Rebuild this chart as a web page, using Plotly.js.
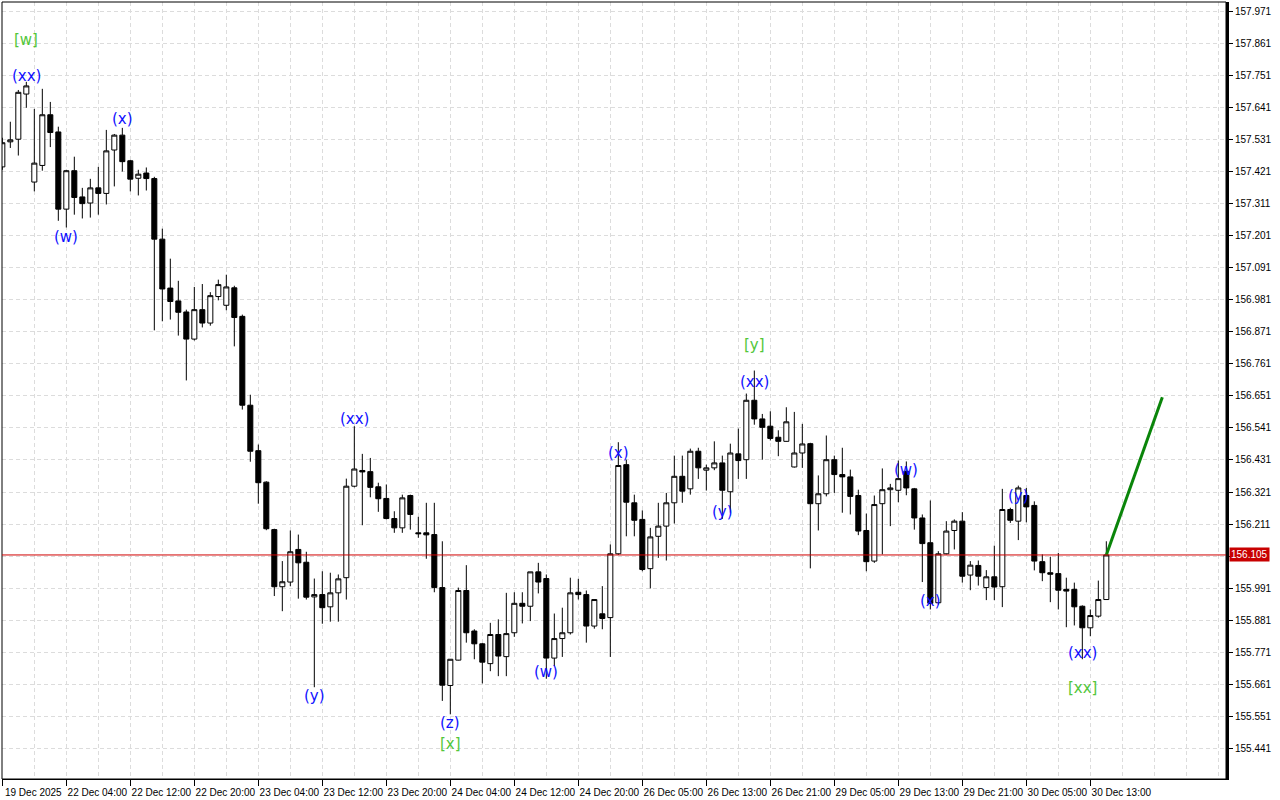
<!DOCTYPE html>
<html>
<head>
<meta charset="utf-8">
<script src="https://cdn.plot.ly/plotly-3.0.1.min.js"></script>
<style>html,body{margin:0;padding:0;background:#fff;}#chart{width:1280px;height:800px;}</style>
</head>
<body>
<div id="chart"></div>
<script>
// ---- data (H1 candles) ----
const openP = [157.437,157.523,157.532,157.687,157.385,157.442,157.616,157.557,157.292,157.424,
157.334,157.313,157.365,157.346,157.495,157.546,157.458,157.398,157.416,157.397,
157.189,157.021,156.977,156.939,156.846,156.947,156.901,156.992,156.962,157.022,
156.924,156.619,156.463,156.355,156.192,155.996,156.012,156.124,156.080,155.961,
155.969,155.927,155.975,156.027,156.341,156.395,156.391,156.339,156.299,156.230,
156.198,156.309,156.181,156.181,156.175,155.993,155.657,155.744,155.983,155.844,
155.800,155.732,155.832,155.756,155.838,155.939,155.929,156.047,156.024,155.751,
155.818,155.838,155.977,155.969,155.861,155.903,155.890,156.109,156.415,156.284,
156.227,156.058,156.169,156.204,156.284,156.375,156.332,156.461,156.396,156.404,
156.421,156.322,156.452,156.432,156.636,156.572,156.547,156.509,156.495,156.407,
156.455,156.487,156.281,156.315,156.432,156.381,156.373,156.309,156.189,156.084,
156.281,156.329,156.327,156.392,156.332,156.232,156.147,155.941,156.109,156.189,
156.221,156.036,156.069,155.993,156.030,155.996,156.261,156.221,156.309,156.275,
156.082,156.044,156.041,155.987,155.987,155.929,155.855,155.895,155.952];
const highP = [157.537,157.592,157.701,157.729,157.636,157.705,157.660,157.575,157.427,157.472,
157.365,157.396,157.437,157.564,157.550,157.571,157.461,157.427,157.435,157.403,
157.225,157.122,157.046,156.947,157.025,157.035,157.007,157.050,157.067,157.029,
156.930,156.655,156.484,156.358,156.195,156.084,156.189,156.175,156.116,156.024,
156.049,156.044,156.038,156.367,156.547,156.452,156.438,156.353,156.347,156.255,
156.312,156.312,156.236,156.284,156.284,156.152,155.747,155.993,156.070,155.850,
155.803,155.872,155.884,155.975,155.977,155.977,156.047,156.078,156.038,155.904,
155.924,156.027,156.023,155.983,155.952,155.998,156.141,156.492,156.432,156.312,
156.258,156.198,156.284,156.318,156.446,156.446,156.470,156.473,156.415,156.495,
156.446,156.487,156.539,156.659,156.738,156.589,156.598,156.533,156.612,156.596,
156.555,156.490,156.378,156.515,156.446,156.473,156.398,156.329,156.247,156.309,
156.402,156.349,156.429,156.426,156.335,156.244,156.292,156.118,156.221,156.227,
156.252,156.084,156.086,156.053,156.137,156.332,156.267,156.343,156.335,156.289,
156.107,156.099,156.112,156.027,156.010,155.932,155.918,156.017,156.152];
const lowP = [157.427,157.502,157.476,157.640,157.353,157.424,157.505,157.252,157.229,157.273,
157.260,157.263,157.273,157.308,157.370,157.421,157.353,157.339,157.356,156.876,
156.907,156.913,156.858,156.704,156.841,156.886,156.892,156.979,156.945,156.821,
156.604,156.425,156.281,156.190,155.964,155.912,155.998,155.955,155.952,155.651,
155.869,155.876,155.876,155.952,156.337,156.207,156.303,156.253,156.227,156.181,
156.181,156.192,156.164,156.092,155.977,155.604,155.558,155.743,155.804,155.747,
155.664,155.706,155.689,155.689,155.824,155.870,155.878,155.973,155.680,155.724,
155.755,155.832,155.952,155.804,155.852,155.850,155.755,156.105,156.169,156.169,
156.049,155.990,156.095,156.086,156.213,156.284,156.312,156.366,156.326,156.396,
156.229,156.250,156.366,156.366,156.552,156.432,156.498,156.444,156.494,156.405,
156.404,156.059,156.189,156.306,156.318,156.250,156.244,156.173,156.049,156.078,
156.107,156.204,156.286,156.310,156.192,156.012,155.918,155.935,156.107,156.124,
156.010,155.984,156.000,155.950,155.950,155.926,156.215,156.156,156.217,156.052,
156.015,155.943,155.918,155.857,155.863,155.747,155.826,155.890,155.952];
const closeP = [157.520,157.530,157.693,157.715,157.450,157.616,157.555,157.292,157.424,157.332,
157.311,157.365,157.346,157.492,157.546,157.455,157.395,157.412,157.397,157.189,
157.018,156.975,156.938,156.846,156.947,156.901,156.995,157.033,157.025,156.920,
156.619,156.461,156.353,156.195,155.996,156.013,156.116,156.078,155.960,155.969,
155.924,155.975,156.023,156.341,156.400,156.390,156.337,156.298,156.230,156.198,
156.301,156.244,156.178,156.174,155.993,155.658,155.747,155.983,155.838,155.800,
155.737,155.832,155.758,155.835,155.939,155.929,156.047,156.012,155.751,155.818,
155.838,155.975,155.969,155.861,155.952,155.887,156.109,156.412,156.286,156.224,
156.055,156.167,156.204,156.284,156.375,156.324,156.461,156.404,156.404,156.421,
156.327,156.455,156.429,156.636,156.572,156.543,156.505,156.495,156.562,156.455,
156.486,156.281,156.315,156.432,156.381,156.373,156.306,156.187,156.082,156.278,
156.329,156.335,156.367,156.335,156.232,156.144,155.939,156.109,156.187,156.221,
156.032,156.070,156.032,156.030,155.995,156.261,156.224,156.335,156.270,156.084,
156.044,156.039,155.984,155.981,155.927,155.855,155.897,155.952,156.105];

const xTickLabels = ['19 Dec 2025','22 Dec 04:00','22 Dec 12:00','22 Dec 20:00','23 Dec 04:00',
'23 Dec 12:00','23 Dec 20:00','24 Dec 04:00','24 Dec 12:00','24 Dec 20:00','26 Dec 05:00',
'26 Dec 13:00','26 Dec 21:00','29 Dec 05:00','29 Dec 13:00','29 Dec 21:00','30 Dec 05:00','30 Dec 13:00'];
const yTickLabels = ['157.971','157.861','157.751','157.641','157.531','157.421','157.311','157.201',
'157.091','156.981','156.871','156.761','156.651','156.541','156.431','156.321','156.211','156.101',
'155.991','155.881','155.771','155.661','155.551','155.441'];
const hiddenTick = '156.101';   // covered by the current-price label
const barsPerLabel = 8;
const barsPerGrid = 4;

const currentPrice = 156.105;
const projectionBarsAhead = 7;
const projectionTarget = 156.646;

// wave labels
const waveText  = ['(xx)','(w)','(x)','(y)','(xx)','(z)','(w)','(x)','(y)','(xx)','(w)','(x)','(y)','(xx)',
                   '[w]','[x]','[y]','[xx]'];
const waveBar   = [3,8,15,39,44,56,68,77,90,94,113,116,127,135, 3,56,94,135];
const wavePrice = [157.748,157.195,157.600,155.622,156.570,155.529,155.704,156.456,156.254,156.700,
                   156.395,155.948,156.309,155.770, 157.871,155.457,156.824,155.649];
const waveDegree = ['minor','minor','minor','minor','minor','minor','minor','minor','minor','minor',
                    'minor','minor','minor','minor','major','major','major','major'];

// ---- chart ----
const idx = openP.map((_, i) => i);
const lastIdx = idx[idx.length - 1];
const gridCol = '#dcdcdc';
const gridDash = '4px,3px';
const axisFont = {family: 'Liberation Sans, Arial, sans-serif', size: 10, color: '#000'};

const candles = {
  type: 'candlestick', x: idx, open: openP, high: highP, low: lowP, close: closeP,
  increasing: {line: {color: '#000', width: 1}, fillcolor: '#ffffff'},
  decreasing: {line: {color: '#000', width: 1}, fillcolor: '#000000'},
  whiskerwidth: 0, hoverinfo: 'skip'
};
const projection = {
  type: 'scatter', mode: 'lines',
  x: [lastIdx, lastIdx + projectionBarsAhead], y: [closeP[lastIdx], projectionTarget],
  line: {color: '#0a850a', width: 3}, hoverinfo: 'skip'
};

const xTickVals = xTickLabels.map((_, i) => i * barsPerLabel);
const minorVals = [];
for (let v = 0; v <= 152; v += barsPerGrid) minorVals.push(v);
const yTickVals = yTickLabels.map(Number);
const yTickText = yTickLabels.map(t => t === hiddenTick ? '' : t);

const annotations = waveText.map((t, i) => ({
  x: waveBar[i], y: wavePrice[i], xref: 'x', yref: 'y', text: t, showarrow: false,
  xanchor: 'center', yanchor: 'middle',
  font: {family: 'DejaVu Sans, sans-serif', size: 15, color: waveDegree[i] === 'major' ? '#52c63a' : '#1010ff'}
}));
annotations.push({
  xref: 'paper', x: 1, xanchor: 'left', xshift: 3, yref: 'y', y: currentPrice, yanchor: 'middle',
  text: currentPrice.toFixed(3), showarrow: false, bgcolor: '#c80000', borderpad: 1,
  font: {family: 'Liberation Sans, Arial, sans-serif', size: 10, color: '#ffffff'}
});

const layout = {
  width: 1280, height: 800,
  margin: {l: 2, r: 54, t: 2, b: 21},
  paper_bgcolor: '#ffffff', plot_bgcolor: '#ffffff',
  showlegend: false,
  boxgap: 0.1, boxgroupgap: 0.3,
  xaxis: {
    type: 'linear', range: [-0.04, 152.96], fixedrange: true,
    rangeslider: {visible: false},
    tickmode: 'array', tickvals: xTickVals, ticktext: xTickLabels,
    ticks: 'outside', ticklen: 6, tickcolor: '#000', tickwidth: 1,
    ticklabelshift: 31, ticklabelstandoff: -2, tickfont: axisFont,
    showline: true, linecolor: '#000', linewidth: 1,
    showgrid: true, gridcolor: gridCol, griddash: gridDash, gridwidth: 1, zeroline: false,
    minor: {tickmode: 'array', tickvals: minorVals, showgrid: true, gridcolor: gridCol, griddash: gridDash, gridwidth: 1, ticks: ''}
  },
  yaxis: {
    side: 'right', range: [155.336, 158.003], fixedrange: true,
    tickmode: 'array', tickvals: yTickVals, ticktext: yTickText,
    ticks: 'outside', ticklen: 4, tickcolor: '#000', tickfont: axisFont,
    showline: true, linecolor: '#000', linewidth: 3,
    showgrid: true, gridcolor: gridCol, griddash: gridDash, gridwidth: 1, zeroline: false
  },
  shapes: [
    {type: 'rect', xref: 'paper', yref: 'paper', x0: 0, x1: 1, y0: 0, y1: 1, line: {color: '#000', width: 1}, layer: 'above'},
    {type: 'line', xref: 'paper', yref: 'y', x0: 0, x1: 1, y0: currentPrice, y1: currentPrice, line: {color: '#d00000', width: 1}, layer: 'above'}
  ],
  annotations: annotations
};

Plotly.newPlot('chart', [candles, projection], layout, {staticPlot: true, displayModeBar: false});
</script>
</body>
</html>
